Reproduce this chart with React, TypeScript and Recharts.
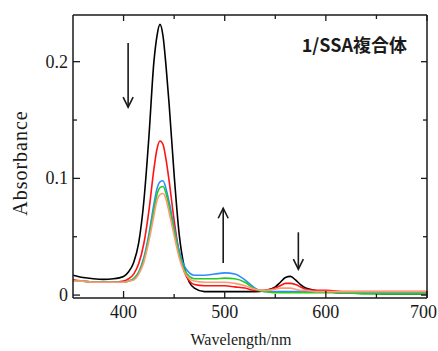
import React from 'react';
import { LineChart, Line, XAxis, YAxis, ReferenceLine } from 'recharts';

const wavelengths = [350, 360, 370, 380, 390, 400, 405, 410, 415, 420, 425, 430, 433, 436, 439, 442, 445, 450, 455, 460, 465, 470, 480, 490, 500, 510, 520, 530, 540, 550, 555, 560, 565, 570, 575, 580, 590, 600, 620, 640, 660, 680, 700];
const black = [0.017, 0.015, 0.014, 0.0135, 0.014, 0.016, 0.02, 0.028, 0.045, 0.08, 0.135, 0.2, 0.222, 0.232, 0.222, 0.196, 0.164, 0.103, 0.052, 0.024, 0.011, 0.006, 0.003, 0.003, 0.003, 0.003, 0.003, 0.003, 0.004, 0.007, 0.011, 0.015, 0.016, 0.013, 0.009, 0.006, 0.004, 0.003, 0.002, 0.002, 0.001, 0.001, 0.001];
const red = [0.013, 0.012, 0.011, 0.011, 0.011, 0.012, 0.014, 0.018, 0.027, 0.044, 0.072, 0.108, 0.125, 0.132, 0.129, 0.116, 0.098, 0.064, 0.036, 0.02, 0.012, 0.009, 0.008, 0.008, 0.008, 0.007, 0.006, 0.004, 0.004, 0.006, 0.008, 0.01, 0.01, 0.009, 0.007, 0.005, 0.004, 0.004, 0.003, 0.003, 0.003, 0.003, 0.003];
const blue = [0.012, 0.012, 0.011, 0.011, 0.011, 0.011, 0.012, 0.014, 0.02, 0.032, 0.052, 0.078, 0.091, 0.097, 0.098, 0.091, 0.08, 0.058, 0.038, 0.025, 0.019, 0.017, 0.017, 0.018, 0.019, 0.018, 0.013, 0.006, 0.003, 0.003, 0.003, 0.003, 0.003, 0.003, 0.003, 0.003, 0.003, 0.003, 0.002, 0.002, 0.002, 0.002, 0.002];
const green = [0.012, 0.012, 0.011, 0.011, 0.011, 0.011, 0.012, 0.014, 0.019, 0.03, 0.049, 0.073, 0.086, 0.092, 0.093, 0.087, 0.076, 0.055, 0.035, 0.022, 0.016, 0.014, 0.014, 0.014, 0.0145, 0.014, 0.011, 0.005, 0.003, 0.002, 0.002, 0.002, 0.002, 0.002, 0.002, 0.002, 0.002, 0.002, 0.002, 0.001, 0.001, 0.001, 0.001];
const orange = [0.012, 0.012, 0.011, 0.011, 0.011, 0.011, 0.012, 0.013, 0.018, 0.028, 0.046, 0.068, 0.081, 0.086, 0.087, 0.082, 0.071, 0.051, 0.032, 0.02, 0.014, 0.012, 0.011, 0.011, 0.011, 0.01, 0.008, 0.005, 0.004, 0.005, 0.006, 0.006, 0.006, 0.005, 0.004, 0.004, 0.003, 0.003, 0.003, 0.003, 0.003, 0.003, 0.003];

const xTicks = [400, 450, 500, 550, 600, 650, 700];
const yTicks = [0, 0.05, 0.1, 0.15, 0.2];

// arrows: [from, to] in data units
const arrows = [
  [{ x: 404.5, y: 0.216 }, { x: 404.5, y: 0.161 }],
  [{ x: 498.5, y: 0.0274 }, { x: 498.5, y: 0.0744 }],
  [{ x: 572.8, y: 0.0538 }, { x: 572.8, y: 0.0222 }],
];

const data = wavelengths.map((w, i) => ({
  w,
  s1: black[i],
  s2: red[i],
  s3: blue[i],
  s4: green[i],
  s5: orange[i],
}));

const serif = '"Liberation Serif", "Times New Roman", serif';
const ink = '#1a1a1a';

const isMajorX = (v: number) => v % 100 === 0;
const isMajorY = (v: number) => Math.abs(v * 10 - Math.round(v * 10)) < 1e-6;
const fmtY = (v: number) => (v === 0 ? '0' : v.toFixed(1));

const BottomTick = (p: any) => {
  const v = p.payload.value;
  const major = isMajorX(v);
  // last label would run past the right edge; pin it inside
  const last = v === xTicks[xTicks.length - 1];
  return (
    <g>
      <line x1={p.x} x2={p.x} y1={p.y} y2={p.y - (major ? 7 : 4)} stroke={ink} strokeWidth={1.3} />
      {major && (
        <text
          x={last ? 437 : p.x}
          y={p.y + 20}
          textAnchor={last ? 'end' : 'middle'}
          fontFamily={serif}
          fontSize={18}
          fill={ink}
        >
          {v}
        </text>
      )}
    </g>
  );
};

const TopTick = (p: any) => {
  const major = isMajorX(p.payload.value);
  return <line x1={p.x} x2={p.x} y1={p.y} y2={p.y + (major ? 6 : 4)} stroke={ink} strokeWidth={1.3} />;
};

const LeftTick = (p: any) => {
  const v = p.payload.value;
  const major = isMajorY(v);
  return (
    <g>
      <line x1={p.x} x2={p.x + (major ? 7 : 4)} y1={p.y} y2={p.y} stroke={ink} strokeWidth={1.3} />
      {major && (
        <text x={p.x - 5} y={p.y + 6} textAnchor="end" fontFamily={serif} fontSize={18} fill={ink}>
          {fmtY(v)}
        </text>
      )}
    </g>
  );
};

const RightTick = (p: any) => {
  const major = isMajorY(p.payload.value);
  return <line x1={p.x} x2={p.x - (major ? 6 : 4)} y1={p.y} y2={p.y} stroke={ink} strokeWidth={1.3} />;
};

const Arrow = (p: any) => {
  const { x1, y1, x2, y2 } = p;
  const dir = y2 > y1 ? 1 : -1;
  return (
    <g>
      <line x1={x1} y1={y1} x2={x2} y2={y2} stroke={ink} strokeWidth={1.6} />
      <polyline
        points={`${x2 - 5},${y2 - dir * 10} ${x2},${y2} ${x2 + 5},${y2 - dir * 10}`}
        fill="none"
        stroke={ink}
        strokeWidth={1.6}
      />
    </g>
  );
};

export default function App() {
  return (
    <div style={{ position: 'absolute', left: 0, top: 0, width: 438, height: 351, background: '#fff' }}>
      <LineChart width={438} height={351} data={data} margin={{ top: 14, right: 10, bottom: 23, left: 13 }}>
        <XAxis
          dataKey="w"
          type="number"
          domain={[350, 700]}
          ticks={xTicks}
          interval={0}
          height={30}
          tickSize={0}
          tickMargin={0}
          tickLine={false}
          tick={BottomTick}
          axisLine={{ stroke: ink, strokeWidth: 1.5 }}
          allowDataOverflow
        />
        <XAxis
          xAxisId="top"
          orientation="top"
          dataKey="w"
          type="number"
          domain={[350, 700]}
          ticks={xTicks}
          interval={0}
          height={1}
          tickSize={0}
          tickMargin={0}
          tickLine={false}
          tick={TopTick}
          axisLine={{ stroke: ink, strokeWidth: 1.5 }}
          allowDataOverflow
        />
        <YAxis
          type="number"
          domain={[-0.0025, 0.24]}
          ticks={yTicks}
          interval={0}
          width={60}
          tickSize={0}
          tickMargin={0}
          tickLine={false}
          tick={LeftTick}
          axisLine={{ stroke: ink, strokeWidth: 1.5 }}
          allowDataOverflow
        />
        <YAxis
          yAxisId="right"
          orientation="right"
          type="number"
          domain={[-0.0025, 0.24]}
          ticks={yTicks}
          interval={0}
          width={1}
          tickSize={0}
          tickMargin={0}
          tickLine={false}
          tick={RightTick}
          axisLine={{ stroke: ink, strokeWidth: 1.5 }}
          allowDataOverflow
        />
        <Line type="monotone" dataKey="s1" stroke="#000000" strokeWidth={1.6} dot={false} isAnimationActive={false} />
        <Line type="monotone" dataKey="s2" stroke="#ff1414" strokeWidth={1.6} dot={false} isAnimationActive={false} />
        <Line type="monotone" dataKey="s3" stroke="#2f8cff" strokeWidth={1.6} dot={false} isAnimationActive={false} />
        <Line type="monotone" dataKey="s4" stroke="#22cc22" strokeWidth={1.6} dot={false} isAnimationActive={false} />
        <Line type="monotone" dataKey="s5" stroke="#ff9a70" strokeWidth={1.6} dot={false} isAnimationActive={false} />
        {arrows.map((seg, i) => (
          <ReferenceLine key={i} segment={seg} shape={Arrow} ifOverflow="extendDomain" />
        ))}
      </LineChart>
      <svg width={438} height={351} style={{ position: 'absolute', left: 0, top: 0, pointerEvents: 'none' }}>
        <text x={407} y={52} textAnchor="end" fontFamily='"Noto Sans CJK JP", sans-serif' fontWeight="bold" fontSize={18} fill={ink}>
          1/SSA複合体
        </text>
        <text x={241} y={345} textAnchor="middle" fontFamily={serif} fontSize={16} fill={ink}>
          Wavelength/nm
        </text>
        <text
          x={27}
          y={163}
          transform="rotate(-90 27 163)"
          textAnchor="middle"
          fontFamily={serif}
          fontSize={20}
          letterSpacing={1}
          fill={ink}
        >
          Absorbance
        </text>
      </svg>
    </div>
  );
}
